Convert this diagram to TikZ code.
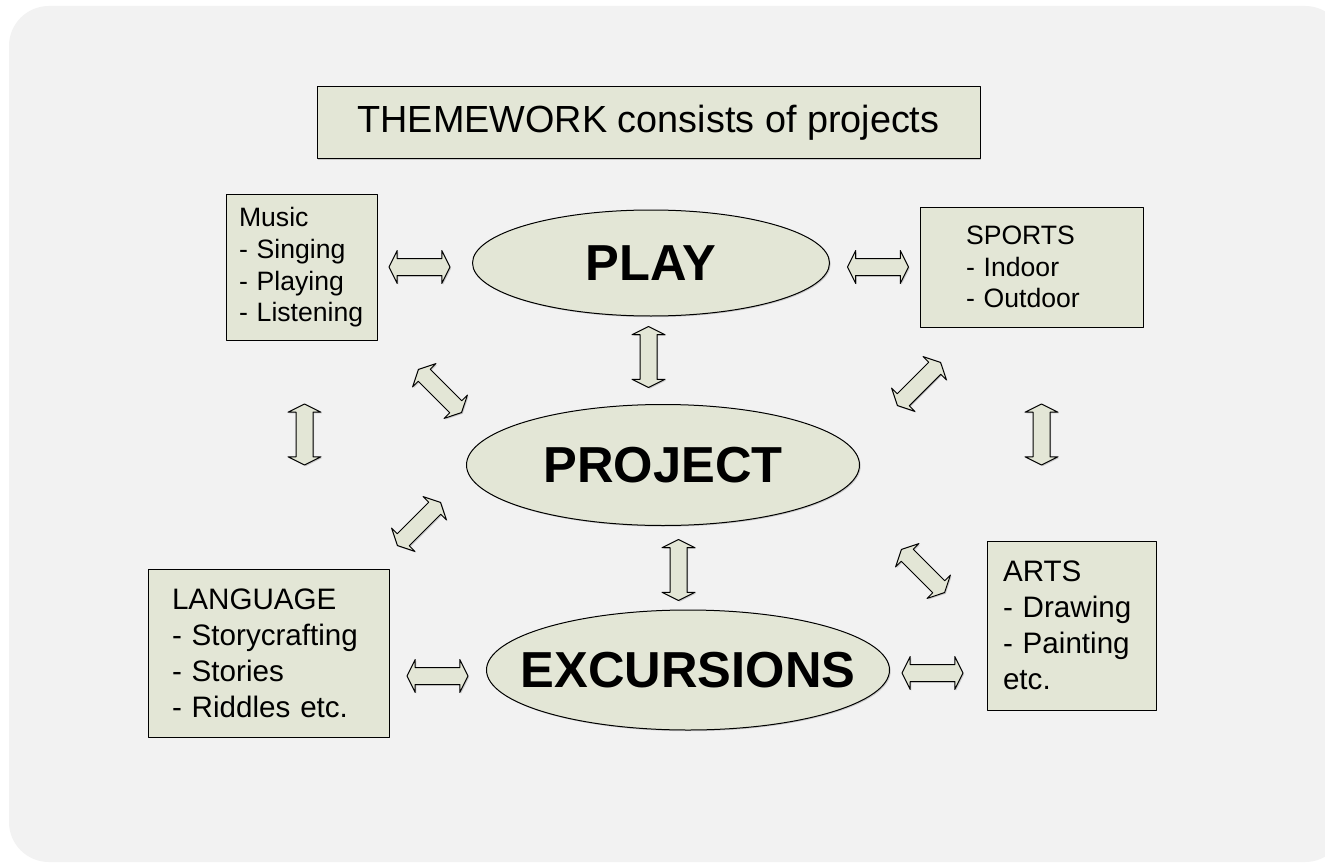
\documentclass[tikz,border=0pt]{standalone}
\usepackage{fontspec}
\setmainfont{Liberation Sans}
\usepackage{tikz}
\usetikzlibrary{shapes.geometric, shapes.arrows, shadows}
\definecolor{sheet_gray}{HTML}{F2F2F2}
\definecolor{box_sage}{HTML}{E3E6D6}

\begin{document}
\begin{tikzpicture}[
            x=0.5pt,
            y=-0.5pt,
            line join=round,
            theme/.style={draw=black, line width=0.5pt, fill=box_sage,
                drop shadow={shadow xshift=0.6pt, shadow yshift=-0.6pt, opacity=0.35}},
            topicbox/.style={theme, rectangle, align=left, inner sep=0pt},
            hubellipse/.style={theme, ellipse, inner sep=0pt,
                font=\fontsize{25.3}{30}\selectfont\bfseries},
            linkarrow/.style={theme, double arrow, inner xsep=0pt, inner ysep=4pt,
                minimum height=30.5pt,
                double arrow head extend=4pt, double arrow tip angle=127}
        ]
            % Sheet with rounded corners
            \clip (0,0) rectangle (1325,866);
            \fill[white] (0,0) rectangle (1325,866);
            \fill[sheet_gray, rounded corners=20pt] (9,6) rectangle (1345,862);

            % Heading
            \node[topicbox, minimum width=331.5pt, minimum height=36pt,
                font=\fontsize{18.9}{22}\selectfont] (heading) at (648.5,123)
                {THEMEWORK consists of projects};

            % Central ellipses (text kept out of the size)
            \node[hubellipse, minimum width=178.5pt, minimum height=53pt] (play) at (651,263)
                {\makebox[0pt]{PLAY}};
            \node[hubellipse, minimum width=196.5pt, minimum height=60.5pt] (project) at (663,465)
                {\makebox[0pt]{PROJECT}};
            \node[hubellipse, minimum width=201.5pt, minimum height=60pt] (excursions) at (688,670)
                {\makebox[0pt]{EXCURSIONS}};

            % Topic boxes
            \node[topicbox, minimum width=75.5pt, minimum height=72.5pt, text width=62.5pt,
                font=\fontsize{13.3}{15.8}\selectfont] (music) at (301.5,267.5)
                {Music\\- Singing\\- Playing\\- Listening};
            \node[topicbox, minimum width=111.5pt, minimum height=60pt, text width=65.5pt,
                font=\fontsize{13.3}{15.8}\selectfont] (sports) at (1031.5,267)
                {SPORTS\\- Indoor\\- Outdoor};
            \node[topicbox, minimum width=120.5pt, minimum height=84pt, text width=96.5pt,
                font=\fontsize{14.8}{18}\selectfont] (language) at (268.5,653)
                {LANGUAGE\\- Storycrafting\\- Stories\\- Riddles etc.};
            \node[topicbox, minimum width=84.5pt, minimum height=84.5pt, text width=68.5pt,
                font=\fontsize{14.8}{18}\selectfont] (arts) at (1071.5,625.5)
                {ARTS\\- Drawing\\- Painting\\etc.};

            % Block arrows between the parts
            \node[linkarrow] (music-play) at (419.5,267) {};
            \node[linkarrow] (play-sports) at (878,267) {};
            \node[linkarrow, rotate=90] (play-project) at (648.5,357) {};
            \node[linkarrow, rotate=-45] (music-project) at (440,391) {};
            \node[linkarrow, rotate=45] (sports-project) at (919,384) {};
            \node[linkarrow, rotate=90] (music-language) at (304.5,434.5) {};
            \node[linkarrow, rotate=90] (sports-arts) at (1041.5,434.5) {};
            \node[linkarrow, rotate=45] (project-language) at (419,524) {};
            \node[linkarrow, rotate=90] (project-excursions) at (678.5,570) {};
            \node[linkarrow, rotate=-45] (project-arts) at (923,571) {};
            \node[linkarrow] (language-excursions) at (437.5,676) {};
            \node[linkarrow] (excursions-arts) at (932.5,673) {};
        \end{tikzpicture}
\end{document}
